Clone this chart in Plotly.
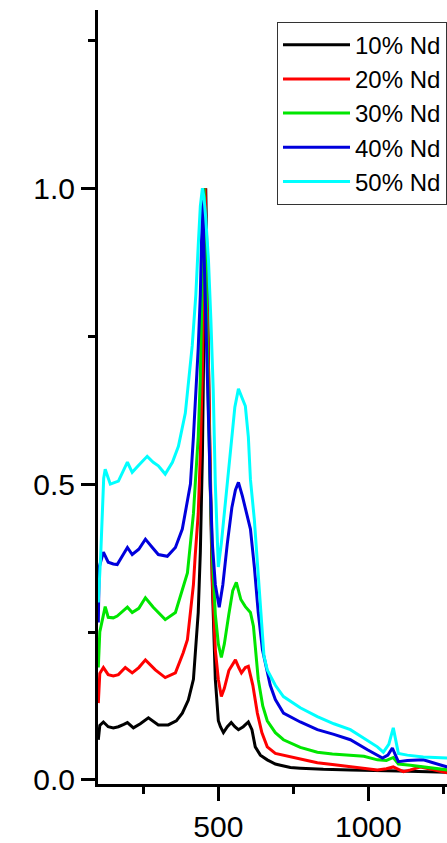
import plotly.graph_objects as go

# ---- data (wavelength nm, normalized intensity) ----
names = ["10% Nd", "20% Nd", "30% Nd", "40% Nd", "50% Nd"]
colors = ["#000000", "#ff0000", "#00e600", "#0000dd", "#00ffff"]

x_10 = [100, 105, 117, 133, 150, 167, 185, 197, 217, 240, 267, 300, 333, 360, 380, 400, 417, 423, 433, 440,
        447, 453, 458, 463, 468, 473, 480, 490, 500, 507, 517, 530, 543, 555, 567, 583, 600, 612, 623, 640,
        663, 690, 707, 740, 773, 850, 940, 1000, 1100, 1200, 1263]
y_10 = [0.068, 0.092, 0.098, 0.09, 0.088, 0.09, 0.094, 0.097, 0.088, 0.095, 0.105, 0.093, 0.093, 0.1, 0.113,
        0.135, 0.17, 0.215, 0.283, 0.385, 0.55, 0.8, 1.0, 0.85, 0.65, 0.5, 0.33, 0.17, 0.1, 0.09,
        0.08, 0.09, 0.097, 0.09, 0.085, 0.09, 0.098, 0.085, 0.056, 0.042, 0.034, 0.027, 0.025, 0.021, 0.02,
        0.018, 0.017, 0.016, 0.015, 0.014, 0.013]

x_20 = [100, 105, 117, 133, 150, 167, 190, 213, 235, 257, 290, 323, 357, 383, 397, 407, 417, 423, 433, 440,
        447, 453, 456, 460, 465, 472, 480, 490, 500, 510, 520, 535, 557, 568, 577, 590, 600, 615, 630, 645,
        663, 690, 717, 773, 830, 880, 940, 985, 1030, 1060, 1083, 1100, 1117, 1140, 1173, 1210, 1263]
y_20 = [0.13, 0.18, 0.19, 0.178, 0.176, 0.178, 0.19, 0.181, 0.19, 0.203, 0.186, 0.173, 0.181, 0.215, 0.237,
        0.283, 0.33, 0.38, 0.45, 0.55, 0.7, 0.92, 1.0, 0.9, 0.75, 0.55, 0.34, 0.22, 0.17, 0.141,
        0.155, 0.185, 0.203, 0.19, 0.181, 0.19, 0.192, 0.16, 0.113, 0.08, 0.056, 0.045, 0.042, 0.035, 0.029,
        0.026, 0.022, 0.02, 0.017, 0.019, 0.022, 0.018, 0.014, 0.017, 0.022, 0.018, 0.012]

x_30 = [100, 105, 123, 133, 150, 163, 197, 213, 235, 257, 283, 323, 357, 383, 397, 407, 417, 423, 433, 440,
        447, 452, 456, 460, 466, 473, 480, 490, 500, 510, 520, 535, 548, 560, 575, 590, 607, 617, 633, 648,
        663, 690, 717, 773, 830, 880, 940, 985, 1030, 1060, 1083, 1100, 1140, 1183, 1263]
y_30 = [0.19, 0.25, 0.293, 0.275, 0.274, 0.277, 0.292, 0.283, 0.29, 0.308, 0.292, 0.271, 0.283, 0.327, 0.35,
        0.40, 0.45, 0.5, 0.58, 0.68, 0.85, 1.0, 0.95, 0.82, 0.65, 0.5, 0.38, 0.28, 0.23, 0.207,
        0.23, 0.28, 0.32, 0.334, 0.305, 0.293, 0.283, 0.26, 0.17, 0.125, 0.1, 0.08, 0.068, 0.055, 0.047,
        0.044, 0.042, 0.04, 0.034, 0.033, 0.038, 0.027, 0.025, 0.022, 0.017]

x_40 = [100, 103, 117, 133, 150, 163, 197, 213, 235, 257, 280, 300, 330, 357, 380, 393, 407, 417, 425, 433,
        440, 445, 448, 452, 458, 465, 473, 480, 490, 503, 515, 530, 545, 557, 567, 580, 595, 607, 620, 633,
        647, 663, 673, 690, 717, 773, 830, 885, 940, 997, 1030, 1047, 1065, 1080, 1092, 1100, 1130, 1183, 1263]
y_40 = [0.266, 0.36, 0.385, 0.368, 0.365, 0.364, 0.393, 0.381, 0.39, 0.407, 0.393, 0.381, 0.378, 0.393, 0.424,
        0.46, 0.5, 0.58, 0.65, 0.73, 0.82, 0.92, 1.0, 0.9, 0.78, 0.65, 0.5, 0.4, 0.33, 0.292,
        0.33, 0.4, 0.46, 0.49, 0.503, 0.48, 0.45, 0.424, 0.36, 0.283, 0.22, 0.18, 0.16, 0.136, 0.113,
        0.098, 0.085, 0.077, 0.068, 0.051, 0.042, 0.037, 0.042, 0.054, 0.04, 0.031, 0.033, 0.034, 0.022]

x_50 = [100, 108, 118, 123, 140, 167, 197, 213, 233, 263, 283, 300, 323, 347, 367, 390, 413, 425, 433, 440,
        447, 452, 458, 467, 475, 483, 490, 500, 510, 525, 540, 555, 567, 580, 590, 600, 607, 620, 633, 645,
        652, 663, 690, 717, 773, 830, 885, 940, 985, 1030, 1050, 1068, 1083, 1100, 1130, 1183, 1263]
y_50 = [0.3, 0.38, 0.51, 0.525, 0.5, 0.505, 0.537, 0.52, 0.531, 0.547, 0.537, 0.531, 0.517, 0.537, 0.564,
        0.62, 0.734, 0.82, 0.903, 0.97, 1.0, 0.985, 0.95, 0.88, 0.78, 0.66, 0.5, 0.36, 0.4, 0.48,
        0.56, 0.63, 0.661, 0.645, 0.632, 0.58, 0.508, 0.44, 0.34, 0.25, 0.21, 0.186, 0.16, 0.141, 0.122,
        0.107, 0.095, 0.085, 0.07, 0.056, 0.047, 0.06, 0.088, 0.045, 0.042, 0.039, 0.037]

xs = [x_10, x_20, x_30, x_40, x_50]
ys = [y_10, y_20, y_30, y_40, y_50]

x_range = [99, 1262]
y_range = [-0.0068, 1.3013]

FONT = "Liberation Sans, Arial, sans-serif"

fig = go.Figure()
for n, c, x, y in zip(names, colors, xs, ys):
    fig.add_trace(go.Scatter(x=x, y=y, mode="lines", name=n,
                             line=dict(color=c, width=3)))

axis_common = dict(showline=True, linewidth=3, linecolor="black", mirror=False,
                   showgrid=False, zeroline=False, ticks="outside", tickwidth=3,
                   ticklen=14, tickcolor="black", automargin=False,
                   tickfont=dict(family=FONT, size=30, color="black"))

fig.update_xaxes(range=x_range, tick0=0, dtick=500,
                 minor=dict(dtick=250, ticks="outside", ticklen=7, tickwidth=3, tickcolor="black"),
                 **axis_common)
fig.update_yaxes(range=y_range, tick0=0, dtick=0.5, tickformat=".1f",
                 minor=dict(dtick=0.25, ticks="outside", ticklen=7, tickwidth=3, tickcolor="black"),
                 **axis_common)

fig.update_layout(
    width=447, height=843,
    margin=dict(l=98, r=0, t=10, b=59, pad=0, autoexpand=False),
    paper_bgcolor="white", plot_bgcolor="white",
    showlegend=True,
    legend=dict(x=1.0, y=0.985, xanchor="right", yanchor="top",
                bgcolor="white", bordercolor="#333333", borderwidth=1,
                font=dict(family=FONT, size=24, color="black"),
                itemwidth=67, tracegroupgap=0),
)

# remove the default page margin so the figure fills the window exactly
fig.write_html("out.html",
               config={"displayModeBar": False},
               post_script="document.body.style.margin='0';document.body.style.overflow='hidden';")
